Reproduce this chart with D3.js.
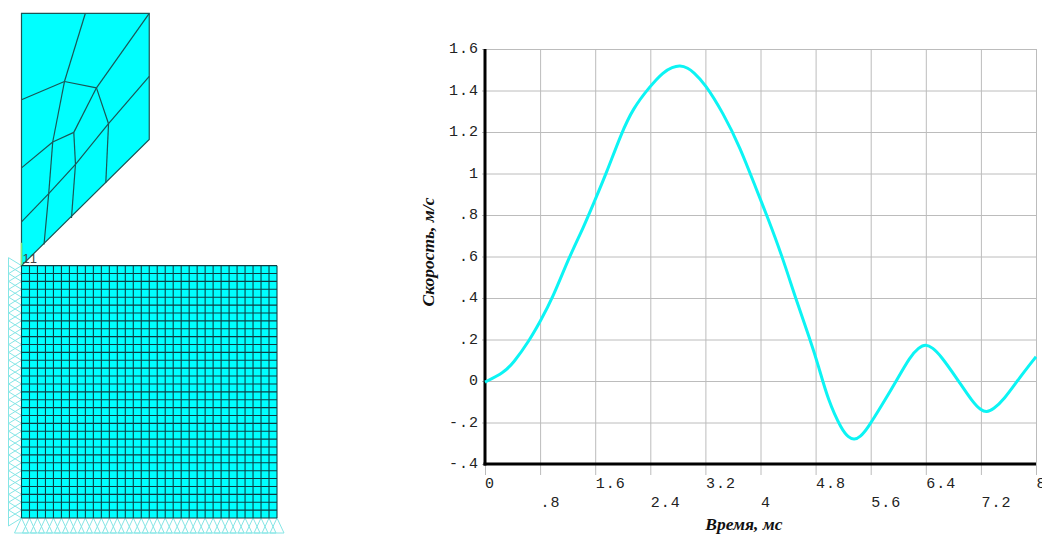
<!DOCTYPE html>
<html>
<head>
<meta charset="utf-8">
<script src="https://cdn.jsdelivr.net/npm/d3@7"></script>
<style>
	html, body { margin: 0; padding: 0; background: #fff; overflow: hidden; }
	svg { display: block; }
	.tick-label { font-family: "Liberation Mono", monospace; font-size: 15px; letter-spacing: 1px; fill: #222; }
	.axis-title { font-family: "Liberation Serif", serif; font-size: 17.5px; font-weight: bold; font-style: italic; fill: #111; }
</style>
</head>
<body>
<svg width="1042" height="534"></svg>
<script>
// velocity curve
const timeMs = [0, 0.27, 0.41, 0.65, 0.8, 0.98, 1.22, 1.43, 1.6, 1.76, 1.98, 2.15, 2.39, 2.59, 2.72, 2.83, 2.95, 3.02, 3.19, 3.46, 3.7, 3.95, 4.09, 4.32, 4.51, 4.72, 4.84, 4.98, 5.18, 5.28, 5.36, 5.45, 5.54, 5.78, 5.98, 6.17, 6.3, 6.4, 6.5, 6.61, 6.85, 7.09, 7.2, 7.28, 7.38, 7.53, 7.77, 8];
const velocity = [-0.005, 0.04, 0.085, 0.198, 0.286, 0.398, 0.596, 0.74, 0.875, 1, 1.194, 1.314, 1.418, 1.49, 1.512, 1.522, 1.508, 1.49, 1.435, 1.29, 1.129, 0.915, 0.8, 0.596, 0.398, 0.2, 0.075, -0.092, -0.236, -0.272, -0.285, -0.268, -0.236, -0.107, 0.005, 0.117, 0.162, 0.178, 0.16, 0.125, 0.013, -0.107, -0.14, -0.152, -0.136, -0.092, 0.02, 0.117];

const xTicks = [0, 0.8, 1.6, 2.4, 3.2, 4, 4.8, 5.6, 6.4, 7.2, 8];
const xTickLabels = ["0", ".8", "1.6", "2.4", "3.2", "4", "4.8", "5.6", "6.4", "7.2", "8"];
const yTicks = [-0.4, -0.2, 0, 0.2, 0.4, 0.6, 0.8, 1, 1.2, 1.4, 1.6];
const yTickLabels = ["-.4", "-.2", "0", ".2", ".4", ".6", ".8", "1", "1.2", "1.4", "1.6"];

// upper body of the FE model, in cell units (tip of the body is 0,0)
const bodyOutline = [[0, 0], [0, 32], [16, 32], [16, 16]];
const bodyNodes = {
	A: [8, 32], B: [16, 32], C: [5.38, 23.35], D: [9.39, 22.55], E: [10.9, 18], F: [6.55, 16.9],
	G: [3.91, 15.68], H: [6.76, 12.85], I: [3.41, 9.14],
	L1: [0, 21.03], L2: [0, 12.4], L3: [0, 5.55], R1: [16, 24],
	P1: [10.56, 10.53], P2: [6.26, 6.05], P3: [2.82, 2.68]
};
const bodyEdges = ["A-C", "B-D", "C-D", "L1-C", "C-G", "D-F", "D-E", "F-G", "L2-G", "G-I", "I-P3", "F-H", "H-P2", "E-P1", "E-H", "H-I", "I-L3", "R1-E"];
const greenEdge = [[0, 0], [0, 2.9]];

// lower block: 32 x 32 cells
const blockCells = d3.range(33);

const svg = d3.select("svg");

// ---- left: mesh
const mx = d3.scaleLinear().domain([0, 32]).range([21.5, 277]);
const my = d3.scaleLinear().domain([32, -32]).range([13.3, 518]);
const meshLine = d3.line().x(d => mx(d[0])).y(d => my(d[1]));

const mesh = svg.append("g");

// supports, drawn first so the block covers their tips
const supports = mesh.append("g")
	.attr("fill", "none")
	.attr("stroke", "#86e6e6")
	.attr("stroke-width", 1);

blockCells.forEach(i => {
	const yv = my(-i);
	supports.append("path").attr("d", `M${mx(0)},${yv}L${mx(0) - 13},${yv - 8}L${mx(0) - 13},${yv + 8}Z`);
	const xv = mx(i);
	supports.append("path").attr("d", `M${xv},${my(-32)}L${xv - 7},${my(-32) + 15}L${xv + 7},${my(-32) + 15}Z`);
});

mesh.append("path")
	.attr("d", meshLine(bodyOutline) + "Z")
	.attr("fill", "#00ffff")
	.attr("stroke", "#1a5656")
	.attr("stroke-width", 1.2);

mesh.selectAll(".edge")
	.data(bodyEdges)
	.join("path")
	.attr("class", "edge")
	.attr("fill", "none")
	.attr("stroke", "#1a5656")
	.attr("stroke-width", 1.2)
	.attr("d", d => meshLine(d.split("-").map(n => bodyNodes[n])));

mesh.append("path")
	.attr("d", meshLine(greenEdge))
	.attr("stroke", "#7dea7d")
	.attr("stroke-width", 1.5);

mesh.append("rect")
	.attr("x", mx(0))
	.attr("y", my(0))
	.attr("width", mx(32) - mx(0))
	.attr("height", my(-32) - my(0))
	.attr("fill", "#00ffff");

mesh.selectAll(".grid-v")
	.data(blockCells)
	.join("line")
	.attr("class", "grid-v")
	.attr("x1", d => mx(d)).attr("x2", d => mx(d))
	.attr("y1", my(0)).attr("y2", my(-32))
	.attr("stroke", "#0c3f44")
	.attr("stroke-width", 1.1);

mesh.selectAll(".grid-h")
	.data(blockCells)
	.join("line")
	.attr("class", "grid-h")
	.attr("x1", mx(0)).attr("x2", mx(32))
	.attr("y1", d => my(-d)).attr("y2", d => my(-d))
	.attr("stroke", "#0c3f44")
	.attr("stroke-width", 1.1);

mesh.append("text")
	.attr("x", mx(0) + 1)
	.attr("y", my(0) - 3)
	.attr("font-family", "Liberation Sans, sans-serif")
	.attr("font-size", 13)
	.attr("letter-spacing", 1)
	.attr("fill", "#444")
	.text("11");

// ---- right: velocity chart
const x = d3.scaleLinear().domain([0, 8]).range([485, 1036]);
const y = d3.scaleLinear().domain([-0.4, 1.6]).range([464, 49]);

const gridColor = "#bcbcbc";

const gY = svg.append("g")
	.attr("transform", `translate(${x(0)},0)`)
	.call(d3.axisLeft(y).tickValues(yTicks).tickSizeInner(-(x(8) - x(0))).tickSizeOuter(0).tickFormat(""));
gY.select(".domain").remove();
gY.selectAll("line").attr("stroke", gridColor).attr("x1", -(x(0) - 482)).attr("x2", x(8) - x(0));

const gX = svg.append("g")
	.attr("transform", `translate(0,${y(-0.4)})`)
	.call(d3.axisBottom(x).tickValues(xTicks).tickSizeOuter(0).tickFormat(""));
gX.select(".domain").remove();
gX.selectAll("line").attr("stroke", gridColor).attr("y1", -(y(-0.4) - y(1.6))).attr("y2", 11);

// heavy axis lines
svg.append("line")
	.attr("x1", x(0)).attr("x2", x(0))
	.attr("y1", y(1.6)).attr("y2", y(-0.4) + 1.5)
	.attr("stroke", "#000").attr("stroke-width", 3);
svg.append("line")
	.attr("x1", x(0) - 1.5).attr("x2", x(8))
	.attr("y1", y(-0.4)).attr("y2", y(-0.4))
	.attr("stroke", "#000").attr("stroke-width", 3);

svg.append("g").selectAll("text")
	.data(yTicks)
	.join("text")
	.attr("class", "tick-label")
	.attr("text-anchor", "end")
	.attr("x", 479)
	.attr("y", d => y(d) + 4)
	.text((d, i) => yTickLabels[i]);

svg.append("g").selectAll("text")
	.data(xTicks)
	.join("text")
	.attr("class", "tick-label")
	.attr("x", d => x(d) + (d === 0 ? 0 : 0.5))
	.attr("y", (d, i) => i % 2 ? 507 : 488)
	.text((d, i) => xTickLabels[i]);

const line = d3.line()
	.curve(d3.curveBasis)
	.x(i => x(timeMs[i]))
	.y(i => y(velocity[i]));

svg.append("path")
	.attr("fill", "none")
	.attr("stroke", "#0cf4f4")
	.attr("stroke-width", 3)
	.attr("stroke-linejoin", "round")
	.attr("d", line(d3.range(timeMs.length)));

svg.append("text")
	.attr("class", "axis-title")
	.attr("text-anchor", "middle")
	.attr("transform", "translate(434,252) rotate(-90)")
	.text("Скорость, м/с");

svg.append("text")
	.attr("class", "axis-title")
	.attr("text-anchor", "middle")
	.attr("x", 744)
	.attr("y", 530)
	.text("Время, мс");
</script>
</body>
</html>
